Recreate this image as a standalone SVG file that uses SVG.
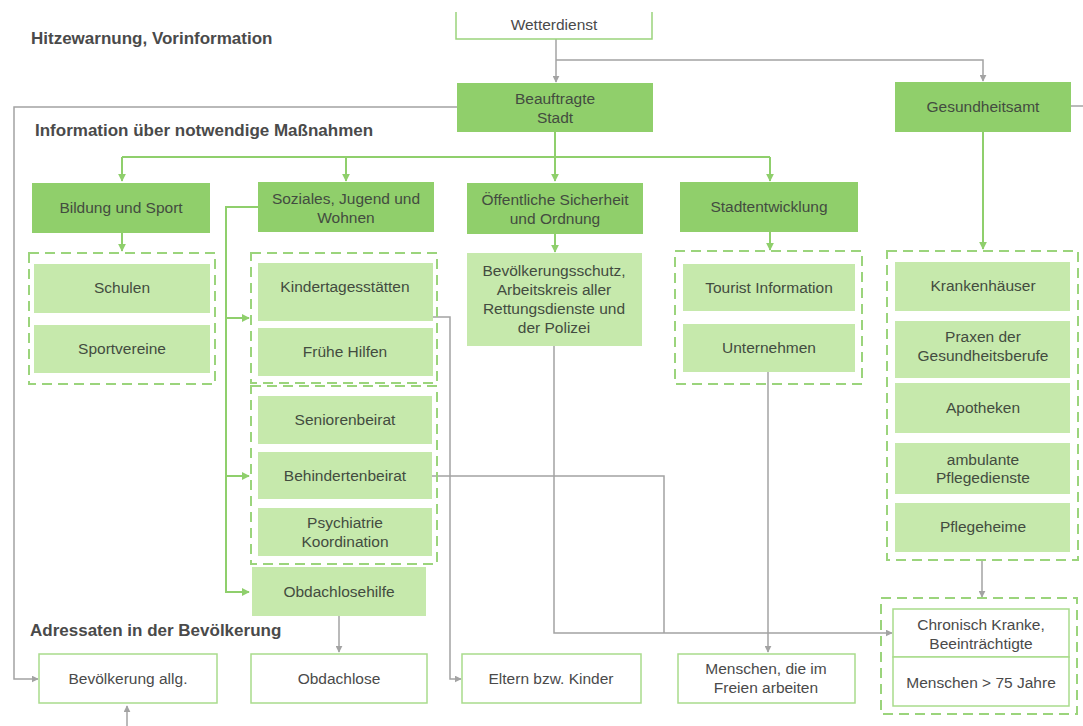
<svg xmlns="http://www.w3.org/2000/svg" width="1083" height="726" viewBox="0 0 1083 726">
<defs>
<style>
.hd{font-family:"Liberation Sans",Arial,sans-serif;font-size:17px;font-weight:bold;fill:#4a4a4a}
.t{font-family:"Liberation Sans",Arial,sans-serif;font-size:15.5px;fill:#434c40;text-anchor:middle}
.tw{font-family:"Liberation Sans",Arial,sans-serif;font-size:15.5px;fill:#4a4a4a;text-anchor:middle}
.dk{fill:#90cf6b}
.lt{fill:#c6e9ac}
.wb{fill:#ffffff;stroke:#a9db8c;stroke-width:1.5}
.grp{fill:none;stroke:#9bd47c;stroke-width:2;stroke-dasharray:10 6}
.g{fill:none;stroke:#a3a3a3;stroke-width:1.5}
.gr{fill:none;stroke:#8fcf6c;stroke-width:2}
</style>
<marker id="ag" viewBox="0 0 10 10" refX="9" refY="5" markerWidth="7" markerHeight="7" markerUnits="userSpaceOnUse" orient="auto"><path d="M0,0 L10,5 L0,10 z" fill="#a3a3a3"/></marker>
<marker id="an" viewBox="0 0 10 10" refX="9" refY="5" markerWidth="8" markerHeight="8" markerUnits="userSpaceOnUse" orient="auto"><path d="M0,0 L10,5 L0,10 z" fill="#8fcf6c"/></marker>
</defs>
<rect width="1083" height="726" fill="#ffffff"/>

<text class="hd" x="31" y="44">Hitzewarnung, Vorinformation</text>
<text class="hd" x="35" y="136">Information über notwendige Maßnahmen</text>
<text class="hd" x="30" y="636">Adressaten in der Bevölkerung</text>

<g id="connectors">
<path class="g" d="M556,39 V82" marker-end="url(#ag)"/>
<path class="g" d="M556,60 H983 V81" marker-end="url(#ag)"/>
<path class="g" d="M457,107 H14 V679 H38" marker-end="url(#ag)"/>
<path class="g" d="M1071,106 H1083"/>
<path class="g" d="M433,317 H450 V679 H461" marker-end="url(#ag)"/>
<path class="g" d="M432,476 H664 V633"/>
<path class="g" d="M554,346 V633 H892" marker-end="url(#ag)"/>
<path class="g" d="M768,372 V652" marker-end="url(#ag)"/>
<path class="g" d="M339,616 V652" marker-end="url(#ag)"/>
<path class="g" d="M982,560 V597" marker-end="url(#ag)"/>
<path class="g" d="M127,726 V706" marker-end="url(#ag)"/>
<path class="gr" d="M555,132 V181" marker-end="url(#an)"/>
<path class="gr" d="M122,157 H770"/>
<path class="gr" d="M122,157 V181" marker-end="url(#an)"/>
<path class="gr" d="M346,157 V181" marker-end="url(#an)"/>
<path class="gr" d="M770,157 V181" marker-end="url(#an)"/>
<path class="gr" d="M122,233 V251" marker-end="url(#an)"/>
<path class="gr" d="M555,234 V252" marker-end="url(#an)"/>
<path class="gr" d="M770,232 V250" marker-end="url(#an)"/>
<path class="gr" d="M983,132 V249" marker-end="url(#an)"/>
<path class="gr" d="M258,207 H226 V592 H249" marker-end="url(#an)"/>
<path class="gr" d="M226,318 H249" marker-end="url(#an)"/>
<path class="gr" d="M226,476 H249" marker-end="url(#an)"/>
</g>

<g id="wetterdienst">
<path d="M456,12 V39 H652 V12" fill="none" stroke="#9bd47c" stroke-width="1.5"/>
<text class="tw" x="554" y="30">Wetterdienst</text>
</g>
<g id="beauftragte">
<rect class="dk" x="457" y="83" width="196" height="49"/>
<text class="t" x="555" y="104">Beauftragte</text>
<text class="t" x="555" y="123">Stadt</text>
</g>
<g id="gesundheitsamt">
<rect class="dk" x="895" y="82" width="176" height="50"/>
<text class="t" x="983" y="112">Gesundheitsamt</text>
</g>

<g id="bildung">
<rect class="dk" x="32" y="183" width="178" height="50"/>
<text class="t" x="121" y="213">Bildung und Sport</text>
</g>
<g id="soziales">
<rect class="dk" x="258" y="182" width="176" height="50"/>
<text class="t" x="346" y="204">Soziales, Jugend und</text>
<text class="t" x="346" y="223">Wohnen</text>
</g>
<g id="oeffentliche">
<rect class="dk" x="467" y="183" width="176" height="51"/>
<text class="t" x="555" y="205">Öffentliche Sicherheit</text>
<text class="t" x="555" y="224">und Ordnung</text>
</g>
<g id="stadtentwicklung">
<rect class="dk" x="680" y="182" width="178" height="50"/>
<text class="t" x="769" y="212">Stadtentwicklung</text>
</g>

<g id="grp-bildung">
<rect class="grp" x="29" y="253" width="186" height="131"/>
</g>
<g id="schulen">
<rect class="lt" x="34" y="264" width="176" height="49"/>
<text class="t" x="122" y="293">Schulen</text>
</g>
<g id="sportvereine">
<rect class="lt" x="34" y="325" width="176" height="48"/>
<text class="t" x="122" y="354">Sportvereine</text>
</g>

<g id="grp-kinder">
<rect class="grp" x="251" y="253" width="186" height="130"/>
</g>
<g id="kindertagesstaetten">
<rect class="lt" x="258" y="263" width="175" height="58"/>
<text class="t" x="345" y="292">Kindertagesstätten</text>
</g>
<g id="fruehe-hilfen">
<rect class="lt" x="258" y="328" width="175" height="48"/>
<text class="t" x="345" y="357">Frühe Hilfen</text>
</g>

<g id="grp-beiraete">
<rect class="grp" x="251" y="386" width="186" height="178"/>
</g>
<g id="seniorenbeirat">
<rect class="lt" x="258" y="396" width="174" height="48"/>
<text class="t" x="345" y="425">Seniorenbeirat</text>
</g>
<g id="behindertenbeirat">
<rect class="lt" x="258" y="452" width="174" height="47"/>
<text class="t" x="345" y="481">Behindertenbeirat</text>
</g>
<g id="psychiatrie">
<rect class="lt" x="258" y="508" width="174" height="48"/>
<text class="t" x="345" y="528">Psychiatrie</text>
<text class="t" x="345" y="547">Koordination</text>
</g>
<g id="obdachlosehilfe">
<rect class="lt" x="252" y="567" width="174" height="49"/>
<text class="t" x="339" y="597">Obdachlosehilfe</text>
</g>

<g id="bevoelkerungsschutz">
<rect class="lt" x="467" y="253" width="175" height="93"/>
<text class="t" x="554" y="276">Bevölkerungsschutz,</text>
<text class="t" x="554" y="295">Arbeitskreis aller</text>
<text class="t" x="554" y="314">Rettungsdienste und</text>
<text class="t" x="554" y="333">der Polizei</text>
</g>

<g id="grp-stadt">
<rect class="grp" x="675" y="251" width="187" height="133"/>
</g>
<g id="tourist">
<rect class="lt" x="683" y="264" width="172" height="47"/>
<text class="t" x="769" y="293">Tourist Information</text>
</g>
<g id="unternehmen">
<rect class="lt" x="683" y="324" width="172" height="48"/>
<text class="t" x="769" y="353">Unternehmen</text>
</g>

<g id="grp-gesundheit">
<rect class="grp" x="887" y="251" width="191" height="309"/>
</g>
<g id="krankenhaeuser">
<rect class="lt" x="895" y="262" width="175" height="49"/>
<text class="t" x="983" y="291">Krankenhäuser</text>
</g>
<g id="praxen">
<rect class="lt" x="895" y="321" width="175" height="57"/>
<text class="t" x="983" y="342">Praxen der</text>
<text class="t" x="983" y="361">Gesundheitsberufe</text>
</g>
<g id="apotheken">
<rect class="lt" x="895" y="383" width="175" height="50"/>
<text class="t" x="983" y="413">Apotheken</text>
</g>
<g id="ambulante">
<rect class="lt" x="895" y="443" width="175" height="51"/>
<text class="t" x="983" y="465">ambulante</text>
<text class="t" x="983" y="483">Pflegedienste</text>
</g>
<g id="pflegeheime">
<rect class="lt" x="895" y="503" width="175" height="49"/>
<text class="t" x="983" y="532">Pflegeheime</text>
</g>

<g id="bevoelkerung-allg">
<rect class="wb" x="39" y="654" width="178" height="49"/>
<text class="tw" x="128" y="684">Bevölkerung allg.</text>
</g>
<g id="obdachlose">
<rect class="wb" x="251" y="654" width="176" height="49"/>
<text class="tw" x="339" y="684">Obdachlose</text>
</g>
<g id="eltern">
<rect class="wb" x="462" y="654" width="179" height="49"/>
<text class="tw" x="551" y="684">Eltern bzw. Kinder</text>
</g>
<g id="menschen-freien">
<rect class="wb" x="678" y="654" width="177" height="49"/>
<text class="tw" x="766" y="674">Menschen, die im</text>
<text class="tw" x="766" y="693">Freien arbeiten</text>
</g>
<g id="grp-chronisch">
<rect class="grp" x="881" y="598" width="196" height="116" stroke-width="1.5" stroke-dasharray="6 4"/>
</g>
<g id="chronisch">
<rect class="wb" x="893" y="609" width="176" height="48"/>
<text class="tw" x="981" y="630">Chronisch Kranke,</text>
<text class="tw" x="981" y="649">Beeinträchtigte</text>
</g>
<g id="menschen-75">
<rect class="wb" x="893" y="657" width="176" height="49"/>
<text class="tw" x="981" y="688">Menschen &gt; 75 Jahre</text>
</g>
</svg>
